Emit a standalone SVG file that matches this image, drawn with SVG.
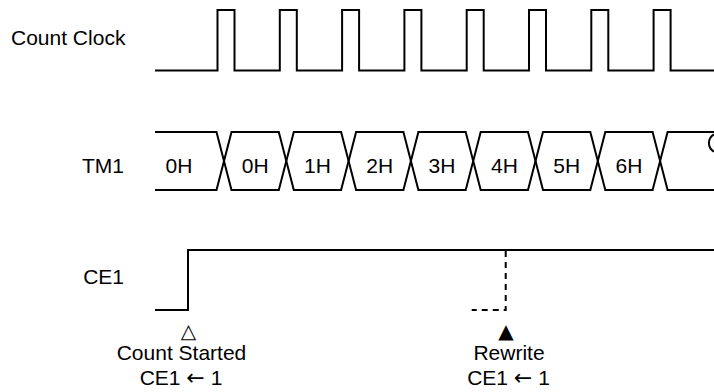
<svg xmlns="http://www.w3.org/2000/svg" width="714" height="392" viewBox="0 0 714 392">
<style>
  .sig { fill: none; stroke: #000; stroke-width: 2; stroke-linejoin: miter; }
  .dash { fill: none; stroke: #000; stroke-width: 2; stroke-dasharray: 6 5; }
  .lbl { font-family: "Liberation Sans", Arial, sans-serif; font-size: 21px; fill: #000; }
  .mid { text-anchor: middle; }
  .end { text-anchor: end; }
  .arr { font-family: "DejaVu Sans", sans-serif; font-size: 22px; }
  .mark { font-family: "DejaVu Sans", sans-serif; font-size: 20px; fill: #000; text-anchor: middle; }
</style>
<rect width="714" height="392" fill="#fff"/>

<g id="count-clock">
  <text class="lbl" x="11" y="45">Count Clock</text>
  <path class="sig" d="M155,70.5 H217.5 V10 H234.5 V70.5 H279.8 V10 H296.8 V70.5 H342.1 V10 H359.1 V70.5 H404.4 V10 H421.4 V70.5 H466.7 V10 H483.7 V70.5 H529 V10 H546 V70.5 H591.3 V10 H608.3 V70.5 H653.6 V10 H670.6 V70.5 H714"/>
</g>

<g id="tm1">
  <text class="lbl end" x="124" y="173">TM1</text>
  <path class="sig" d="M155,132 H216.5 L224,161 L216.5,190 H155"/>
  <path class="sig" d="M224,161 L231.5,132 H278.8 L286.3,161 L278.8,190 H231.5 Z"/>
  <path class="sig" d="M286.3,161 L293.8,132 H341.1 L348.6,161 L341.1,190 H293.8 Z"/>
  <path class="sig" d="M348.6,161 L356.1,132 H403.4 L410.9,161 L403.4,190 H356.1 Z"/>
  <path class="sig" d="M410.9,161 L418.4,132 H465.7 L473.2,161 L465.7,190 H418.4 Z"/>
  <path class="sig" d="M473.2,161 L480.7,132 H528 L535.5,161 L528,190 H480.7 Z"/>
  <path class="sig" d="M535.5,161 L543,132 H590.3 L597.8,161 L590.3,190 H543 Z"/>
  <path class="sig" d="M597.8,161 L605.3,132 H652.6 L660.1,161 L652.6,190 H605.3 Z"/>
  <path class="sig" d="M714,132 H667.6 L660.1,161 L667.6,190 H714"/>
  <path class="sig" d="M714,134.3 A10,10 0 0 0 714,151.7"/>
  <text class="lbl mid" x="179" y="173">0H</text>
  <text class="lbl mid" x="255.2" y="173">0H</text>
  <text class="lbl mid" x="317.5" y="173">1H</text>
  <text class="lbl mid" x="379.8" y="173">2H</text>
  <text class="lbl mid" x="442" y="173">3H</text>
  <text class="lbl mid" x="504.4" y="173">4H</text>
  <text class="lbl mid" x="566.7" y="173">5H</text>
  <text class="lbl mid" x="629" y="173">6H</text>
</g>

<g id="ce1">
  <text class="lbl end" x="124" y="284">CE1</text>
  <path class="sig" d="M155,310 H188 V250 H714"/>
</g>

<g id="connectors">
  <path class="dash" d="M505.7,251 V310 H471.7"/>
</g>

<g id="count-started">
  <text class="mark" x="188.5" y="338">△</text>
  <text class="lbl mid" x="181.5" y="360">Count Started</text>
  <text class="lbl mid" x="181" y="385">CE1 <tspan class="arr">←</tspan> 1</text>
</g>

<g id="rewrite">
  <text class="mark" x="506" y="338">▲</text>
  <text class="lbl mid" x="509" y="360">Rewrite</text>
  <text class="lbl mid" x="508.5" y="385">CE1 <tspan class="arr">←</tspan> 1</text>
</g>
</svg>
